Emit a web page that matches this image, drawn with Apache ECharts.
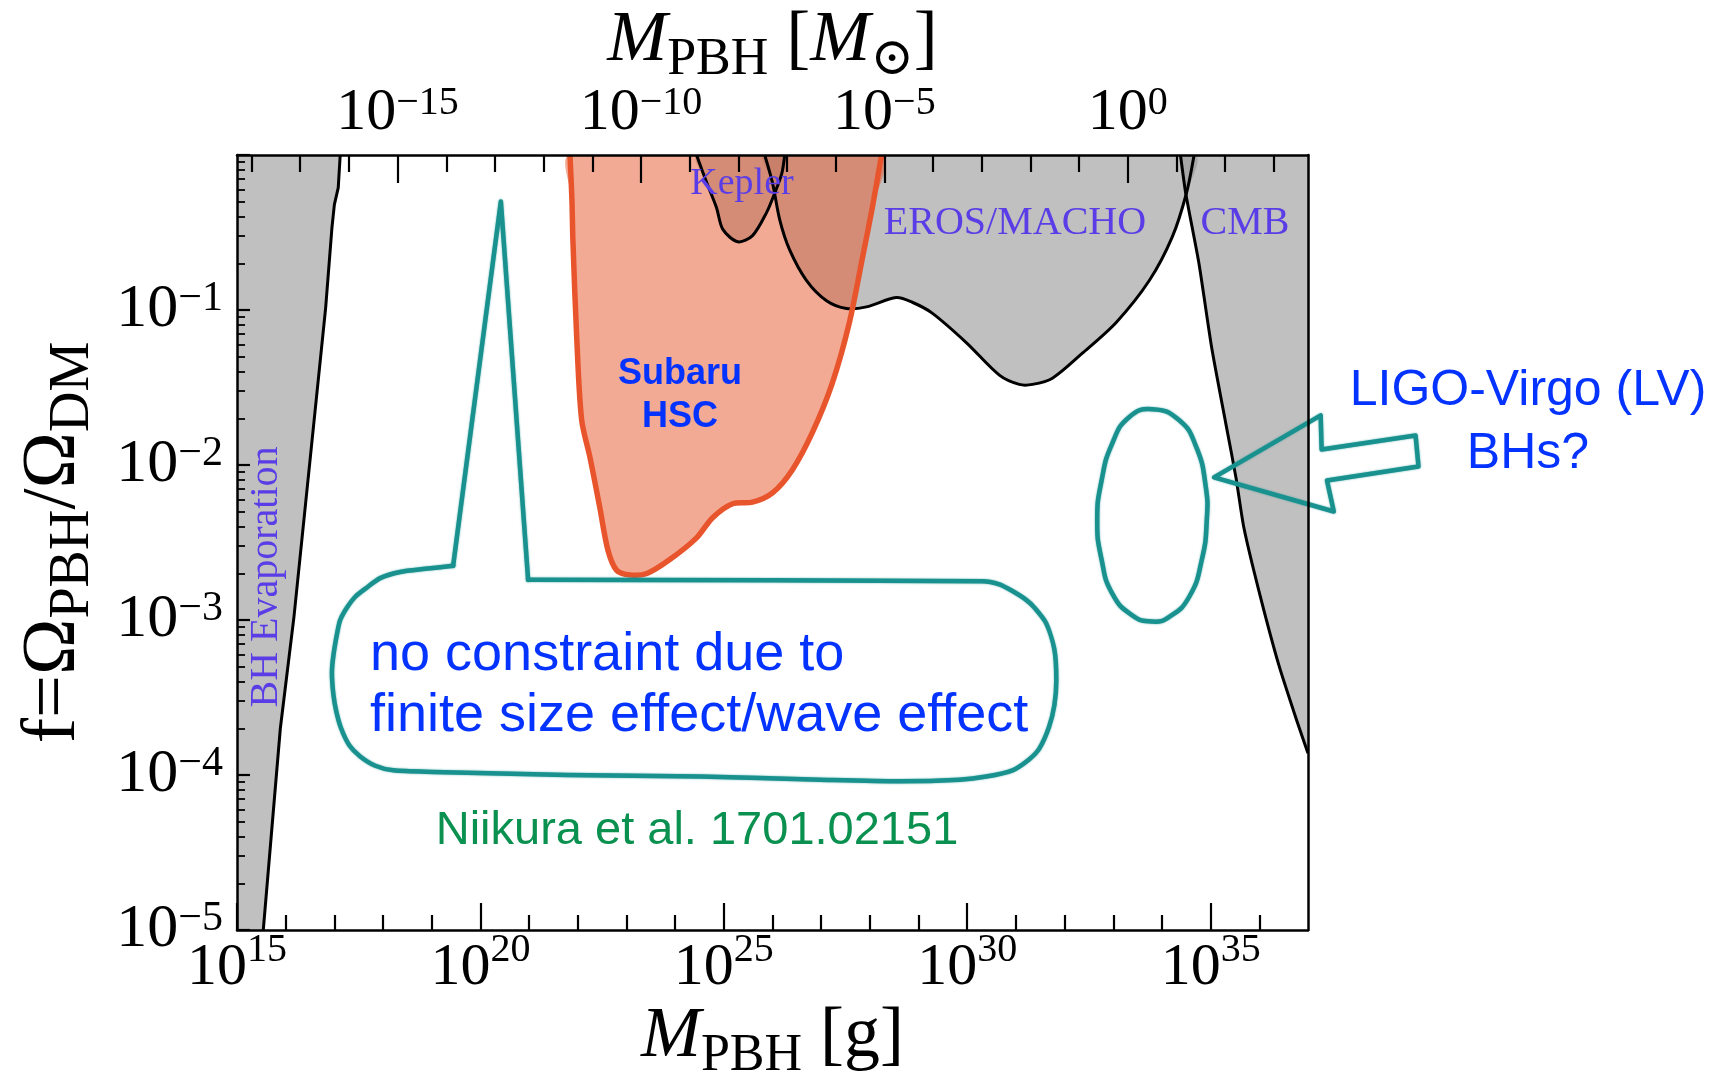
<!DOCTYPE html>
<html>
<head>
<meta charset="utf-8">
<title>PBH abundance constraints</title>
<script src="https://cdn.jsdelivr.net/npm/echarts@6/dist/echarts.min.js"></script>
<style>
  html, body { margin: 0; padding: 0; background: #fff; }
  #chart { width: 1725px; height: 1079px; }
</style>
</head>
<body>
<div id="chart"></div>
<script>
// every curve is stored as [log10(M_PBH / g), log10(f)]
const LOG_MSUN_G = 33.2986;
const X_MIN = 15, X_MAX = 37, Y_MIN = -5, Y_MAX = 0;

const bhEvaporation = [[15.54, -5], [15.89, -3.70], [16.17, -2.98], [16.82, -0.99], [16.95, -0.47], [17.00, -0.32], [17.08, -0.21], [17.12, 0]];
const kepler = [[24.44, 0], [24.65, -0.18], [24.85, -0.34], [24.98, -0.48], [25.29, -0.56], [25.59, -0.52], [25.88, -0.37], [26.04, -0.25], [26.19, -0.12], [26.25, 0]];
const erosMacho = [[25.84, 0], [26.00, -0.18], [26.15, -0.42], [26.35, -0.61], [26.70, -0.81], [27.11, -0.94], [27.52, -0.99], [27.93, -0.98], [28.54, -0.92], [28.87, -0.95], [29.28, -1.02], [29.98, -1.21], [30.66, -1.42], [31.07, -1.48], [31.34, -1.48], [31.75, -1.44], [32.36, -1.28], [33.06, -1.08], [33.74, -0.81], [34.21, -0.53], [34.50, -0.25], [34.66, 0]];
const cmb = [[34.38, 0], [34.49, -0.25], [34.76, -0.70], [35.02, -1.24], [35.31, -1.73], [35.52, -2.08], [35.68, -2.40], [35.99, -2.81], [36.40, -3.29], [36.77, -3.65], [37, -3.86]];
const subaruHsc = [[21.84, 0], [21.88, -0.29], [21.90, -0.55], [21.98, -1.19], [22.08, -1.71], [22.25, -1.95], [22.45, -2.27], [22.62, -2.55], [22.80, -2.68], [23.07, -2.71], [23.42, -2.70], [23.89, -2.61], [24.44, -2.47], [24.77, -2.34], [25.18, -2.25], [25.59, -2.24], [26.00, -2.18], [26.41, -2.03], [26.82, -1.79], [27.23, -1.47], [27.58, -1.08], [27.85, -0.66], [28.05, -0.34], [28.24, 0]];

// hand-drawn teal annotations
const finiteSizeSpike = [[19.44, -2.65], [20.42, -0.30], [20.98, -2.74]];
const finiteSizeBody = [[20.98, -2.74], [30.31, -2.75], [30.66, -2.77], [30.91, -2.81], [31.21, -2.87], [31.38, -2.92], [31.62, -3.02], [31.79, -3.19], [31.83, -3.39], [31.79, -3.55], [31.68, -3.69], [31.48, -3.83], [31.27, -3.90], [30.93, -3.97], [30.39, -4.01], [29.84, -4.03], [28.61, -4.04], [26.97, -4.03], [24.51, -4.01], [21.78, -4.00], [19.03, -3.98], [18.21, -3.97], [17.84, -3.94], [17.53, -3.88], [17.31, -3.81], [17.14, -3.70], [17.04, -3.59], [16.98, -3.48], [16.95, -3.34], [16.98, -3.23], [17.06, -3.08], [17.12, -3.00], [17.26, -2.92], [17.43, -2.85], [17.67, -2.79], [17.94, -2.73], [18.35, -2.69], [18.87, -2.67], [19.44, -2.65]];
const lvEllipse = [[33.80, -1.64], [34.35, -1.71], [34.70, -1.88], [34.90, -2.14], [34.92, -2.36], [34.82, -2.61], [34.56, -2.85], [34.15, -2.98], [33.80, -3.01], [33.39, -2.97], [32.98, -2.83], [32.76, -2.61], [32.67, -2.36], [32.76, -2.10], [32.98, -1.86], [33.33, -1.69]];
const lvArrow = [[35.07, -2.08], [37.26, -1.68], [37.28, -1.90], [39.21, -1.81], [39.27, -2.01], [37.39, -2.10], [37.53, -2.30]];

// ticks
const gramTicks = [15, 20, 25, 30, 35];
const gramMinorTicks = [16, 17, 18, 19, 21, 22, 23, 24, 26, 27, 28, 29, 31, 32, 33, 34, 36];
const solarTicks = [-15, -10, -5, 0];
const solarMinorTicks = [-18, -17, -16, -14, -13, -12, -11, -9, -8, -7, -6, -4, -3, -2, -1, 1, 2, 3];
const fTicks = [-5, -4, -3, -2, -1, 0];
const fLabels = [-5, -4, -3, -2, -1];
const fMinorTicks = [];
for (let n = -5; n < 0; n++) {
  for (let k = 2; k <= 9; k++) fMinorTicks.push(n + Math.log10(k));
}

const serif = '"Liberation Serif", "DejaVu Serif", serif';
const sans = '"Liberation Sans", Arial, sans-serif';
const GRAY = 'rgba(150, 150, 150, 0.6)';
const HSC_FILL = 'rgba(230, 95, 53, 0.53)';
const HSC_LINE = '#e8552d';
const TEAL = '#18918f';
const PURPLE = '#5a3de6';
const BLUE = '#0433ff';
const GREEN = '#0a9150';

function supLabel(value) {
  const exp = value < 0 ? '\u2212' + Math.abs(value) : String(value);
  return '{b|10}{s|' + exp + '}';
}

// one custom element per series, placed through the cartesian axes
function shapeSeries(points, kind, style, smooth, z, clip) {
  return {
    type: 'custom',
    silent: true,
    clip: clip,
    z: z,
    data: points,
    renderItem: function (params, api) {
      if (params.dataIndex !== 0) return null;
      return {
        type: kind,
        shape: {
          points: points.map(function (p) { return api.coord(p); }),
          smooth: smooth,
          smoothConstraint: false
        },
        style: style
      };
    }
  };
}

function fill(points, color, smooth, z) {
  return shapeSeries(points, 'polygon', { fill: color, stroke: null }, smooth, z, true);
}

function curve(points, color, width, smooth, z) {
  return shapeSeries(points, 'polyline', { fill: null, stroke: color, lineWidth: width, lineJoin: 'round' }, smooth, z, true);
}

const sketchStyle = {
  fill: null, stroke: TEAL, lineWidth: 4.5, lineJoin: 'round', lineCap: 'round',
  shadowBlur: 2, shadowColor: 'rgba(24,145,143,0.7)'
};

function sketch(points, kind, smooth) {
  return shapeSeries(points, kind, sketchStyle, smooth, 8, false);
}

const tickLine = { color: '#000', width: 2.2 };
const xNameRich = {
  i: { fontFamily: serif, fontStyle: 'italic', fontSize: 72, lineHeight: 90, color: '#000' },
  r: { fontFamily: serif, fontSize: 72, lineHeight: 90, color: '#000' },
  s: { fontFamily: serif, fontSize: 52, lineHeight: 60, verticalAlign: 'bottom', color: '#000' }
};
const yNameRich = {
  r: { fontFamily: serif, fontSize: 76, lineHeight: 94, color: '#000' },
  s: { fontFamily: serif, fontSize: 56, lineHeight: 60, verticalAlign: 'bottom', color: '#000' }
};

const chart = echarts.init(document.getElementById('chart'), null, { renderer: 'canvas' });

chart.setOption({
  animation: false,
  backgroundColor: '#fff',
  grid: { left: 237, right: 417, top: 155, bottom: 149, containLabel: false, outerBoundsMode: 'none' },
  xAxis: [
    {
      type: 'value', position: 'bottom', min: X_MIN, max: X_MAX, z: 10,
      axisLine: { show: true, onZero: false, lineStyle: { color: '#000', width: 2.5 } },
      axisTick: { show: true, inside: true, length: 27, customValues: gramTicks, lineStyle: tickLine },
      axisLabel: {
        show: true, customValues: gramTicks, margin: 0, formatter: supLabel,
        rich: {
          b: { fontFamily: serif, fontSize: 60, lineHeight: 76, color: '#000' },
          s: { fontFamily: serif, fontSize: 40, lineHeight: 38, verticalAlign: 'top', color: '#000' }
        }
      },
      splitLine: { show: false },
      name: '{i|M}{s|PBH}{r| [g]}',
      nameLocation: 'middle', nameGap: 62, nameMoveOverlap: false,
      nameTextStyle: { fontFamily: serif, fontSize: 72, lineHeight: 90, rich: xNameRich }
    },
    {
      type: 'value', position: 'bottom', min: X_MIN, max: X_MAX, z: 10,
      axisLine: { show: false, onZero: false },
      axisTick: { show: true, inside: true, length: 15, customValues: gramMinorTicks, lineStyle: tickLine },
      axisLabel: { show: false },
      splitLine: { show: false }
    },
    {
      type: 'value', position: 'top', min: X_MIN - LOG_MSUN_G, max: X_MAX - LOG_MSUN_G, z: 10,
      axisLine: { show: true, onZero: false, lineStyle: { color: '#000', width: 2.5 } },
      axisTick: { show: true, inside: true, length: 28, customValues: solarTicks, lineStyle: tickLine },
      axisLabel: {
        show: true, customValues: solarTicks, margin: 12, formatter: supLabel,
        rich: {
          b: { fontFamily: serif, fontSize: 60, lineHeight: 60, color: '#000' },
          s: { fontFamily: serif, fontSize: 40, lineHeight: 34, verticalAlign: 'top', color: '#000' }
        }
      },
      splitLine: { show: false },
      name: '{i|M}{s|PBH}{r| [}{i|M}{s|\u2299}{r|]}',
      nameLocation: 'middle', nameGap: 69, nameMoveOverlap: false,
      nameTextStyle: { fontFamily: serif, fontSize: 72, lineHeight: 90, rich: xNameRich }
    },
    {
      type: 'value', position: 'top', min: X_MIN - LOG_MSUN_G, max: X_MAX - LOG_MSUN_G, z: 10,
      axisLine: { show: false, onZero: false },
      axisTick: { show: true, inside: true, length: 17, customValues: solarMinorTicks, lineStyle: tickLine },
      axisLabel: { show: false },
      splitLine: { show: false }
    }
  ],
  yAxis: [
    {
      type: 'value', position: 'left', min: Y_MIN, max: Y_MAX, z: 10,
      axisLine: { show: true, onZero: false, lineStyle: { color: '#000', width: 2.5 } },
      axisTick: { show: true, inside: true, length: 13, customValues: fTicks, lineStyle: tickLine },
      axisLabel: {
        show: true, customValues: fLabels, margin: 14, formatter: supLabel,
        rich: {
          b: { fontFamily: serif, fontSize: 62, lineHeight: 64, color: '#000' },
          s: { fontFamily: serif, fontSize: 42, lineHeight: 34, verticalAlign: 'top', color: '#000' }
        }
      },
      splitLine: { show: false },
      name: '{r|f=\u03a9}{s|PBH}{r|/\u03a9}{s|DM}',
      nameLocation: 'middle', nameGap: 136, nameRotate: 90, nameMoveOverlap: false,
      nameTextStyle: { fontFamily: serif, fontSize: 76, lineHeight: 94, rich: yNameRich }
    },
    {
      type: 'value', position: 'left', min: Y_MIN, max: Y_MAX, z: 10,
      axisLine: { show: false, onZero: false },
      axisTick: { show: true, inside: true, length: 8, customValues: fMinorTicks, lineStyle: { color: '#000', width: 1.8 } },
      axisLabel: { show: false },
      splitLine: { show: false }
    },
    {
      type: 'value', position: 'right', min: Y_MIN, max: Y_MAX, z: 10,
      axisLine: { show: true, onZero: false, lineStyle: { color: '#000', width: 2.5 } },
      axisTick: { show: false },
      axisLabel: { show: false },
      splitLine: { show: false }
    }
  ],
  series: [
    fill(bhEvaporation.concat([[X_MIN, Y_MAX], [X_MIN, Y_MIN]]), GRAY, 0, 1),
    fill(kepler, GRAY, 0.3, 1),
    fill(erosMacho, GRAY, 0.3, 1),
    fill(cmb.concat([[X_MAX, Y_MAX]]), GRAY, 0, 1),
    fill(subaruHsc, HSC_FILL, 0.3, 3),
    curve(bhEvaporation, '#000', 3, 0, 4),
    curve(kepler, '#000', 3, 0.3, 4),
    curve(erosMacho, '#000', 3, 0.3, 4),
    curve(cmb, '#000', 3, 0.2, 4),
    curve(subaruHsc, HSC_LINE, 5.5, 0.3, 5),
    sketch(finiteSizeSpike, 'polyline', 0),
    sketch(finiteSizeBody, 'polyline', 0.25),
    sketch(lvEllipse, 'polygon', 0.5),
    sketch(lvArrow, 'polygon', 0)
  ],
  graphic: [
    { type: 'text', x: 742, y: 184, z: 50, style: { text: 'Kepler', fill: PURPLE, fontFamily: serif, fontSize: 38, align: 'center', verticalAlign: 'middle' } },
    { type: 'text', x: 1015, y: 223, z: 50, style: { text: 'EROS/MACHO', fill: PURPLE, fontFamily: serif, fontSize: 40, align: 'center', verticalAlign: 'middle' } },
    { type: 'text', x: 1245, y: 223, z: 50, style: { text: 'CMB', fill: PURPLE, fontFamily: serif, fontSize: 40, align: 'center', verticalAlign: 'middle' } },
    { type: 'text', x: 266, y: 577, rotation: Math.PI / 2, z: 50, style: { text: 'BH Evaporation', fill: PURPLE, fontFamily: serif, fontSize: 40, align: 'center', verticalAlign: 'middle' } },
    { type: 'text', x: 680, y: 396, z: 50, style: { text: 'Subaru\nHSC', fill: BLUE, fontFamily: sans, fontWeight: 'bold', fontSize: 36, lineHeight: 43, align: 'center', verticalAlign: 'middle' } },
    { type: 'text', x: 370, y: 686, z: 50, style: { text: 'no constraint due to\nfinite size effect/wave effect', fill: BLUE, fontFamily: sans, fontSize: 54, lineHeight: 61, align: 'left', verticalAlign: 'middle' } },
    { type: 'text', x: 697, y: 831, z: 50, style: { text: 'Niikura et al. 1701.02151', fill: GREEN, fontFamily: sans, fontSize: 47, align: 'center', verticalAlign: 'middle' } },
    { type: 'text', x: 1528, y: 423, z: 50, style: { text: 'LIGO-Virgo (LV)\nBHs?', fill: BLUE, fontFamily: sans, fontSize: 50, lineHeight: 63, align: 'center', verticalAlign: 'middle' } }
  ]
});
</script>
</body>
</html>
